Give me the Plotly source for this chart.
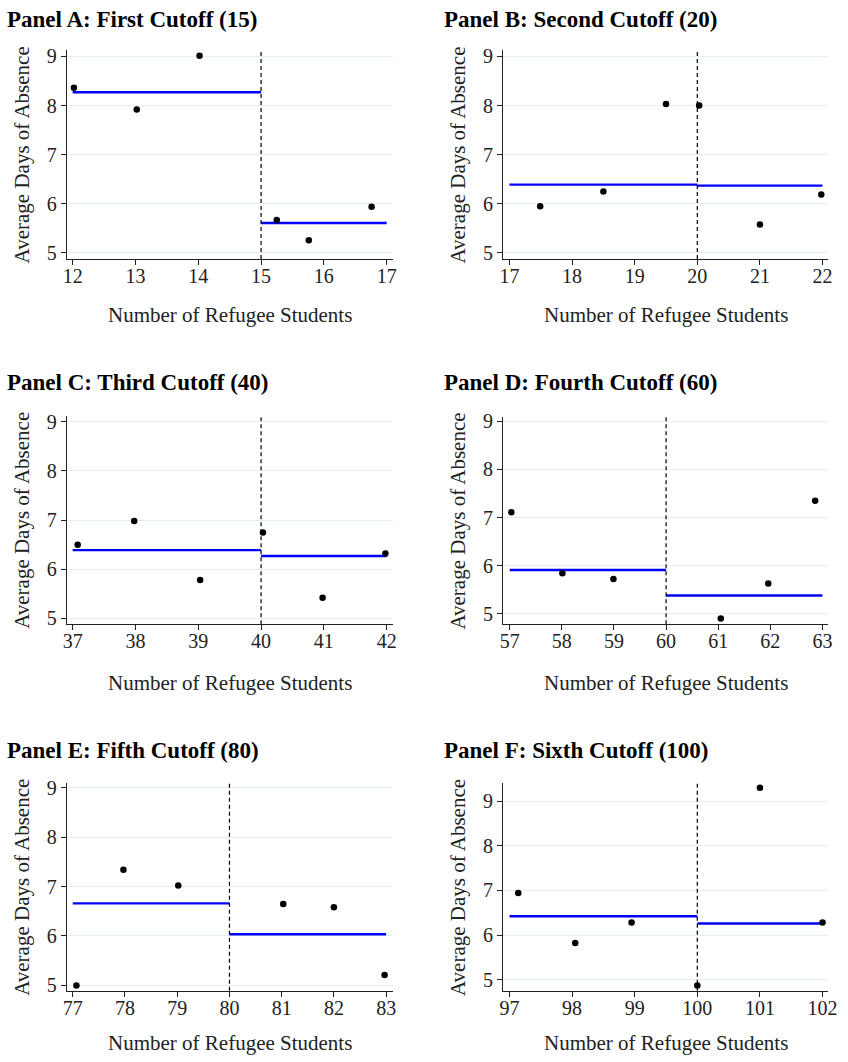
import plotly.graph_objects as go

W, H = 848, 1062

titles = ["Panel A: First Cutoff (15)", "Panel B: Second Cutoff (20)",
          "Panel C: Third Cutoff (40)", "Panel D: Fourth Cutoff (60)",
          "Panel E: Fifth Cutoff (80)", "Panel F: Sixth Cutoff (100)"]
cutoffs = [15, 20, 40, 60, 80, 100]

# binned scatter points
x_a = [12.02, 13.02, 14.02, 15.25, 15.76, 16.76]
y_a = [8.36, 7.92, 9.01, 5.67, 5.26, 5.94]
x_b = [17.49, 18.5, 19.5, 20.03, 21.0, 21.98]
y_b = [5.95, 6.25, 8.03, 8.0, 5.58, 6.19]
x_c = [37.08, 37.98, 39.03, 40.03, 40.98, 41.98]
y_c = [6.5, 6.98, 5.78, 6.75, 5.42, 6.32]
x_d = [57.03, 58.01, 58.99, 61.05, 61.96, 62.86]
y_d = [7.11, 5.84, 5.72, 4.9, 5.63, 7.35]
x_e = [77.07, 77.97, 79.02, 81.03, 82.0, 82.97]
y_e = [5.0, 7.34, 7.02, 6.65, 6.58, 5.21]
x_f = [97.14, 98.05, 98.95, 100.0, 101.0, 102.0]
y_f = [6.94, 5.82, 6.28, 4.87, 9.3, 6.28]

# fitted means: (x_start, x_cut, x_end, left_mean, right_mean)
fit_a = [12, 15, 17, 8.27, 5.61]
fit_b = [17, 20, 22, 6.39, 6.37]
fit_c = [37, 40, 42, 6.39, 6.27]
fit_d = [57, 60, 63, 5.91, 5.38]
fit_e = [77, 80, 83, 6.66, 6.035]
fit_f = [97, 100, 102, 6.42, 6.26]

xs = [x_a, x_b, x_c, x_d, x_e, x_f]
ys = [y_a, y_b, y_c, y_d, y_e, y_f]
fits = [fit_a, fit_b, fit_c, fit_d, fit_e, fit_f]

x_ranges = [[11.91, 17.1], [16.9, 22.09], [36.91, 42.1], [56.875, 63.11], [76.89, 83.13], [96.9, 102.09]]
y_ranges = [[4.88, 9.12], [4.88, 9.12], [4.88, 9.12], [4.78, 9.09], [4.89, 9.09], [4.75, 9.4]]
x_ticks = [list(range(12, 18)), list(range(17, 23)), list(range(37, 43)),
           list(range(57, 64)), list(range(77, 84)), list(range(97, 103))]
y_ticks = [5, 6, 7, 8, 9]

# pixel boxes (left, right, top, bottom)
boxes = [(64, 395, 44, 255), (507, 837, 44, 255),
         (64, 395, 414, 625), (507, 837, 415, 625),
         (64, 395, 786, 996), (507, 837, 786, 996)]
title_base = [22, 22, 390, 390, 762, 762]
title_left = [1, 445, 1, 445, 1, 445]
xtitle_mid = [312, 312, 684, 684, 1049, 1049]
ytitle_cx = [18, 461, 18, 461, 18, 461]

FONT = "Liberation Serif"
fig = go.Figure()
annotations = []
shapes = []
layout = {}

for i in range(6):
    ax = "" if i == 0 else str(i + 1)
    xa, ya = "x" + ax, "y" + ax
    l, r, t, b = boxes[i]
    f = fits[i]
    fig.add_trace(go.Scatter(x=[f[0], f[1]], y=[f[3], f[3]], mode="lines", xaxis=xa, yaxis=ya,
                             line=dict(color="#0000ff", width=2.4), showlegend=False))
    fig.add_trace(go.Scatter(x=[f[1], f[2]], y=[f[4], f[4]], mode="lines", xaxis=xa, yaxis=ya,
                             line=dict(color="#0000ff", width=2.4), showlegend=False))
    fig.add_trace(go.Scatter(x=xs[i], y=ys[i], mode="markers", xaxis=xa, yaxis=ya,
                             marker=dict(color="black", size=6.5), showlegend=False,
                             cliponaxis=False))
    layout["xaxis" + ax] = dict(domain=[l / W, r / W], range=x_ranges[i], anchor=ya,
                                tickvals=x_ticks[i], ticks="outside", ticklen=5, tickwidth=1,
                                tickcolor="#222", showline=True, linecolor="#222", linewidth=1.3,
                                showgrid=False, zeroline=False, ticklabelstandoff=-6,
                                tickfont=dict(family=FONT, size=20, color="#222"))
    layout["yaxis" + ax] = dict(domain=[1 - b / H, 1 - t / H], range=y_ranges[i], anchor=xa,
                                tickvals=y_ticks, ticks="outside", ticklen=5, tickwidth=1,
                                tickcolor="#222", showline=True, linecolor="#222", linewidth=1.3,
                                showgrid=True, gridcolor="#e6eff0", gridwidth=1, zeroline=False,
                                tickfont=dict(family=FONT, size=20, color="#222"))
    shapes.append(dict(type="line", xref=xa, yref="paper", x0=cutoffs[i], x1=cutoffs[i],
                       y0=1 - b / H, y1=1 - t / H,
                       line=dict(color="black", width=1.2, dash="4px,3px")))
    annotations.append(dict(text="<b>" + titles[i] + "</b>", xref="paper", yref="paper",
                            x=title_left[i] / W, y=1 - (title_base[i] + 5) / H,
                            xanchor="left", yanchor="bottom", showarrow=False,
                            font=dict(family=FONT, size=23, color="black")))
    annotations.append(dict(text="Number of Refugee Students", xref="paper", yref="paper",
                            x=(l + r) / 2 / W, y=1 - xtitle_mid[i] / H,
                            xanchor="center", yanchor="middle", showarrow=False,
                            font=dict(family=FONT, size=21, color="#222")))
    annotations.append(dict(text="Average Days of Absence", xref="paper", yref="paper",
                            x=ytitle_cx[i] / W, y=1 - (t + b) / 2 / H, textangle=-90,
                            xanchor="center", yanchor="middle", showarrow=False,
                            font=dict(family=FONT, size=21, color="#222")))

fig.update_layout(width=W, height=H, margin=dict(l=0, r=0, t=0, b=0),
                  paper_bgcolor="white", plot_bgcolor="white",
                  annotations=annotations, shapes=shapes, **layout)
fig.write_html("out.html")
